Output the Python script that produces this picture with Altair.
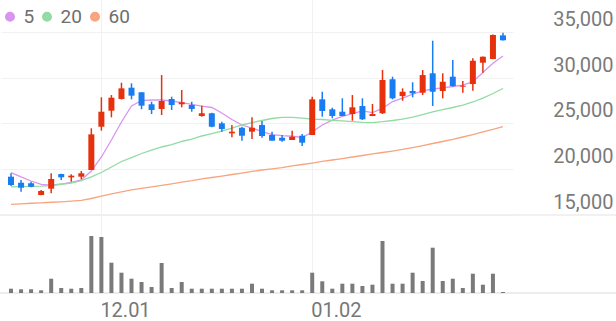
import altair as alt
import pandas as pd

# ---- data ----
opens = [19180, 18520, 18460, 17180, 17870, 19470, 19110, 19180, 19910, 24630,
         26380, 27660, 28890, 28390, 27080, 26570, 27660, 27080, 27000, 25800,
         26100, 25000, 23910, 24520, 24090, 24820, 23730, 23430, 23180, 23650,
         23730, 27620, 26530, 26270, 26020, 26890, 25800, 26100, 29810, 27980,
         28530, 28340, 30460, 28530, 30090, 29000, 29290, 31620, 32020, 34600]
highs = [19550, 18820, 18630, 17730, 19550, 19500, 19440, 19800, 24460, 27840,
         28090, 29430, 29370, 28400, 27360, 30270, 27910, 28640, 27360, 26930,
         26150, 25180, 24820, 24630, 25660, 25250, 24090, 23730, 24200, 23840,
         27910, 28450, 26710, 27730, 28090, 27730, 27110, 30820, 30090, 28820,
         29480, 30820, 34020, 30460, 31910, 29620, 32100, 32300, 34700, 34890]
lows = [18170, 17540, 18020, 17150, 17370, 18820, 18630, 18900, 19900, 24200,
        25660, 27600, 27620, 26530, 26020, 25910, 26460, 26750, 26270, 25730,
        24580, 24090, 23480, 23110, 23290, 23430, 23100, 23000, 23180, 22530,
        23730, 25730, 25550, 25790, 25290, 25370, 25790, 26020, 27620, 27470,
        27840, 28090, 26890, 27730, 29000, 28340, 28560, 30530, 32000, 34050]
closes = [18270, 17980, 18090, 17620, 18930, 19110, 19290, 19550, 23800, 26270,
          27800, 28820, 28020, 26930, 26460, 27440, 27000, 27300, 26570, 26100,
          24630, 24380, 24090, 23650, 24520, 23620, 23110, 23110, 23540, 22890,
          27620, 26350, 25800, 25800, 26750, 25440, 26020, 29730, 27730, 28450,
          28280, 30270, 28450, 29540, 29070, 29110, 31830, 32270, 34640, 34060]
volumes = [215000, 185000, 185000, 135000, 715000, 250000, 215000, 250000, 2850000, 2800000,
           1515000, 1015000, 715000, 550000, 300000, 1500000, 250000, 550000, 215000, 215000,
           215000, 215000, 215000, 215000, 465000, 215000, 135000, 135000, 135000, 135000,
           1015000, 585000, 215000, 465000, 465000, 350000, 415000, 2600000, 465000, 465000,
           1015000, 600000, 2265000, 600000, 715000, 250000, 965000, 415000, 965000, 50000]
ma5 = [19620, 19150, 18710, 18330, 18270, 18380, 18550, 18820, 19800, 21330,
       23180, 25150, 26890, 27490, 27550, 27550, 27440, 27270, 27060, 26890,
       26730, 26130, 25420, 24820, 24490, 24090, 23780, 23670, 23590, 23460,
       24060, 24820, 25360, 25750, 26070, 26350, 26180, 26640, 27380, 27760,
       28200, 28530, 28750, 28860, 29020, 29180, 29540, 30550, 31550, 32350]
ma20 = [18060, 18090, 18130, 18160, 18220, 18330, 18490, 18760, 19150, 19640,
        20240, 20840, 21270, 21710, 22090, 22420, 22690, 23020, 23290, 23620,
        23890, 24160, 24490, 24820, 25090, 25310, 25530, 25660, 25660, 25580,
        25470, 25420, 25330, 25260, 25180, 25110, 25090, 25180, 25310, 25470,
        25690, 25960, 26240, 26490, 26730, 27000, 27330, 27760, 28260, 28800]
ma60 = [16170, 16220, 16280, 16330, 16390, 16440, 16510, 16600, 16800, 17070,
        17310, 17530, 17730, 17910, 18080, 18240, 18400, 18580, 18740, 18930,
        19090, 19250, 19420, 19580, 19750, 19910, 20040, 20180, 20350, 20510,
        20670, 20840, 21000, 21160, 21330, 21490, 21660, 21820, 21980, 22150,
        22360, 22580, 22800, 23020, 23240, 23510, 23780, 24060, 24330, 24630]
ma_names = ["5", "20", "60"]
ma_colors = ["#d895ef", "#92dba3", "#f8a47f"]
tick_idx = [9, 30]
tick_text = ["12.01", "01.02"]
y_ticks = [15000, 20000, 25000, 30000, 35000]

UP = "#e7310d"
DOWN = "#1a7cf1"
FONT = "Roboto"

n = len(opens)
idx = list(range(n))
candles = pd.DataFrame({"i": idx, "open": opens, "high": highs,
                        "low": lows, "close": closes, "vol": volumes})
ma_df = pd.concat([
    pd.DataFrame({"i": idx, "ma": name, "value": vals})
    for name, vals in zip(ma_names, [ma5, ma20, ma60])
])

label_expr = " : ".join(
    f"datum.value == {p} ? '{t}'" for p, t in zip(tick_idx, tick_text)) + " : ''"

x_axis = alt.Axis(values=tick_idx, labelExpr=label_expr, grid=True,
                  gridColor="#f1f1f1", gridWidth=1, domain=False, ticks=False,
                  labelAlign="left", labelBaseline="top", labelPadding=7,
                  labelOffset=-1.5, labelFlush=False, labelFontSize=20,
                  labelFont=FONT, labelColor="#777777", title=None)
x_scale = alt.Scale(domain=[-0.5, n - 0.5], nice=False, zero=False)


def X():
    return alt.X("i:Q", scale=x_scale, axis=x_axis)


price_scale = alt.Scale(domain=[6489, 38459], nice=False, zero=False)
price_axis = alt.Axis(orient="right", values=y_ticks, format=",d", grid=True,
                      gridColor="#f1f1f1", gridWidth=1, domain=False, ticks=False,
                      labelAlign="right", labelBaseline="alphabetic",
                      labelPadding=100, labelOffset=-6.5, labelFontSize=20,
                      labelFont=FONT, labelColor="#7a7a7a", title=None)


def PY(field):
    return alt.Y(field, type="quantitative", scale=price_scale, axis=price_axis)


def ring(r):
    return f"M{r},0A{r},{r} 0 1,1 {-r},0A{r},{r} 0 1,1 {r},0Z"


# concentric rings drawn with the legend stroke give a solid dot
dot_path = "".join(ring(r) for r in [0.08, 0.25, 0.42, 0.59, 0.76, 0.9])

cond_color = alt.condition("datum.close >= datum.open", alt.value(UP), alt.value(DOWN))
ma_scale = alt.Scale(domain=ma_names, range=ma_colors)

sep = alt.Chart(pd.DataFrame({"v": [15000]})).mark_rule(
    color="#ececec", strokeWidth=1.5).encode(
    y=PY("v"), x=alt.value(-1), x2=alt.value(615))

lines = alt.Chart(ma_df).mark_line().encode(
    x=X(), y=PY("value"),
    color=alt.Color("ma:N", scale=ma_scale,
                    legend=alt.Legend(orient="none", legendX=-0.5, legendY=7,
                                      direction="horizontal", title=None,
                                      symbolType=dot_path, symbolSize=95,
                                      symbolStrokeWidth=1.4, symbolOpacity=1,
                                      labelFontSize=19, labelFont=FONT,
                                      labelColor="#6e6e6e", labelOffset=4,
                                      columnPadding=3, padding=0)),
    detail="ma:N", order="i:Q")

wicks = alt.Chart(candles).mark_rule(strokeWidth=1.5).encode(
    x=X(), y=PY("low"), y2="high", color=cond_color)

bodies = alt.Chart(candles).mark_bar(size=6).encode(
    x=X(), y=PY("open"), y2="close", color=cond_color)

price = alt.layer(sep, lines, wicks, bodies)

vol_scale = alt.Scale(domain=[0, 14650000], nice=False, zero=True)

vol_base = alt.Chart(pd.DataFrame({"v": [0]})).mark_rule(
    color="#e6e6e6", strokeWidth=1.5).encode(
    y=alt.Y("v:Q", scale=vol_scale, axis=None), x=alt.value(-1), x2=alt.value(615))

vol_bars = alt.Chart(candles).mark_bar(size=4, color="#7a7a7a").encode(
    x=X(), y=alt.Y("vol:Q", scale=vol_scale, axis=None))

vol = alt.layer(vol_base, vol_bars)

chart = alt.layer(price, vol).resolve_scale(y="independent").properties(
    width=512, height=293,
    padding={"left": 1, "top": 0, "right": 103, "bottom": 28},
    autosize=alt.AutoSizeParams(type="none"),
    background="white",
).configure_view(stroke=None).configure_line(strokeWidth=1.3).configure_legend(
    labelFontSize=19, labelFont=FONT, labelColor="#6e6e6e")

chart.save("out.html", embed_options={"renderer": "svg", "actions": False})
